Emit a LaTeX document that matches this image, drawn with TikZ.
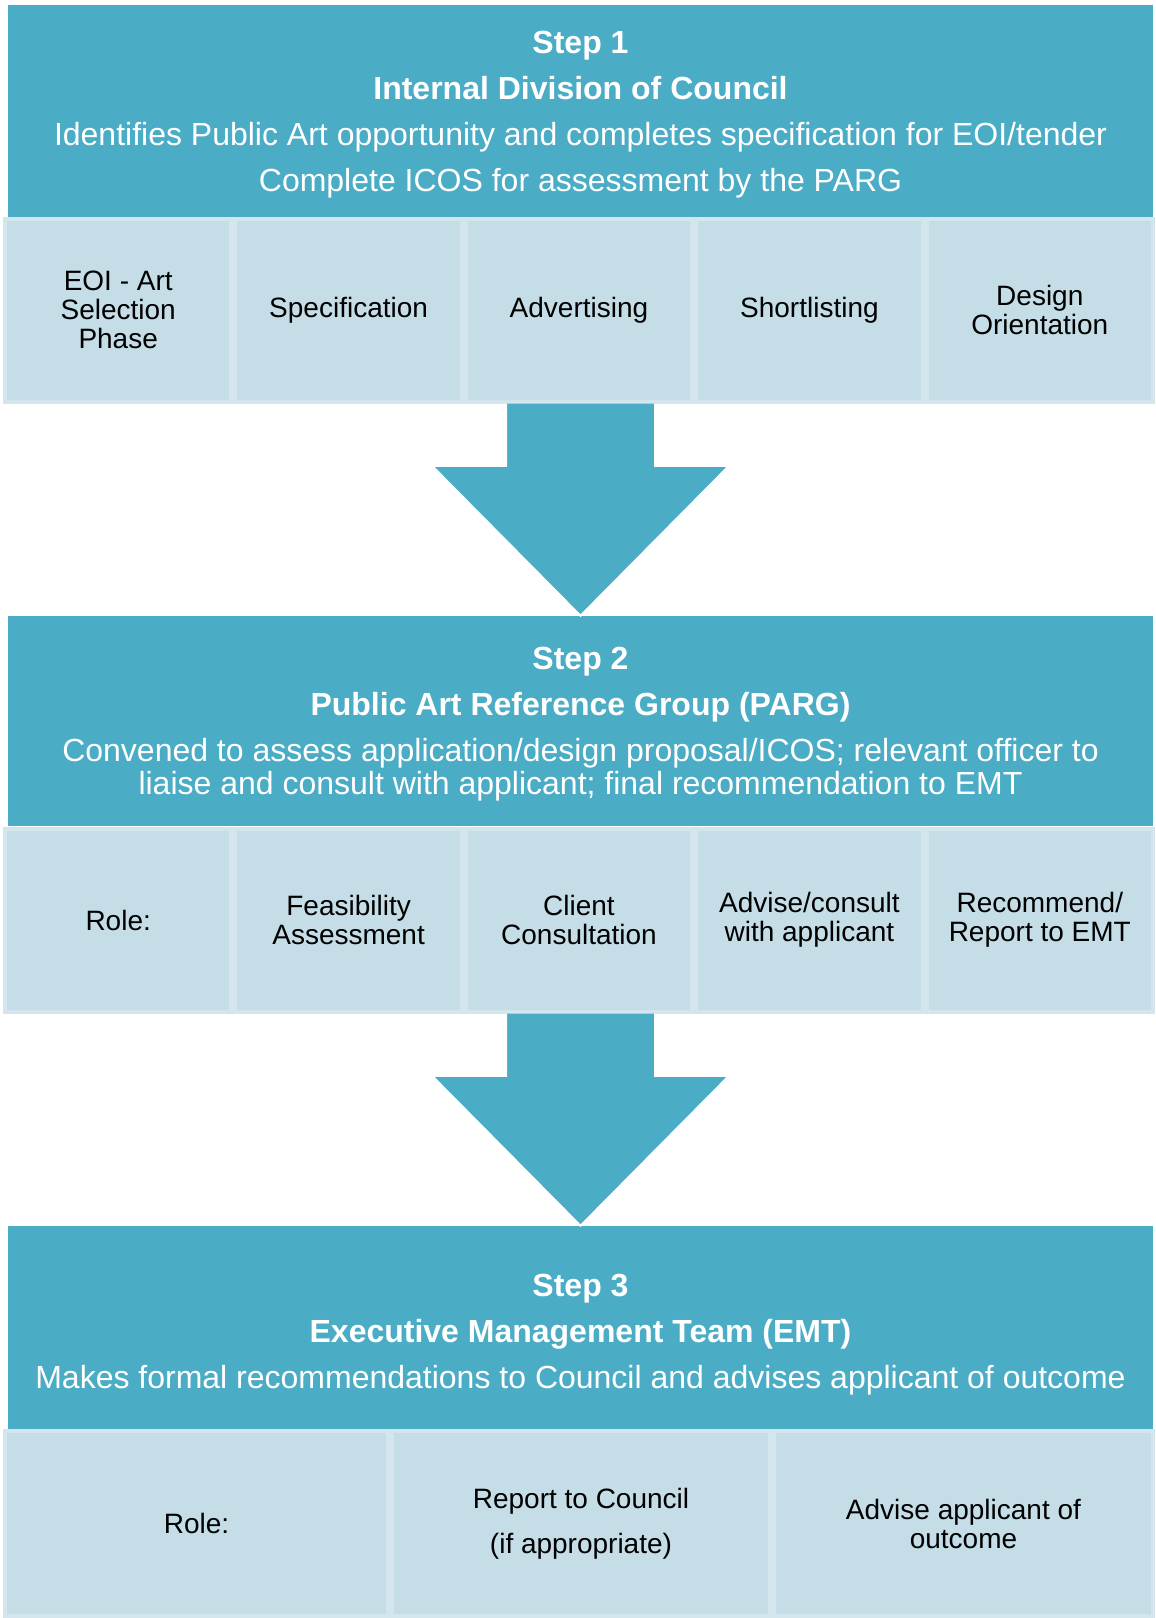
\documentclass[tikz,border=0pt]{standalone}
\usepackage{fontspec}
\setmainfont{Liberation Sans}
\usepackage{xcolor}
\usetikzlibrary{calc}
\usetikzlibrary{positioning}

\definecolor{stepblue}{HTML}{4BACC6}
\definecolor{cellfill}{HTML}{C4DDE6}
\definecolor{cellline}{HTML}{D3E6ED}
\newcommand{\topgap}[1]{\rule{0pt}{#1}}

\begin{document}
\begin{tikzpicture}[x=1pt, y=-1pt,
                banner/.style={rectangle, fill=stepblue, text=white, align=center,
                    inner sep=0pt, minimum width=1145pt, font=\fontsize{32}{33}\selectfont},
                cell/.style={rectangle, fill=cellfill, draw=cellline, line width=4pt,
                    align=center, inner sep=0pt, minimum width=226.4pt, minimum height=183pt,
                    font=\fontsize{28}{29}\selectfont},
                widecell/.style={cell, minimum height=185pt},
                bigarrow/.style={fill=stepblue, draw=white, line width=2pt, line join=miter}]
                \useasboundingbox (0,0) rectangle (1156,1618);
                \fill [white] (0,0) rectangle (1156,1618);
                % step 1
                \node [banner, minimum height=212pt] (step1) at (580.5,111)
                    {\topgap{30pt}{\bfseries Step 1}\\[13pt]{\bfseries Internal Division of Council}\\[13pt]
                     Identifies Public Art opportunity and completes specification for EOI/tender\\[13pt]
                     Complete ICOS for assessment by the PARG};
                \node [cell] (eoi) at (118.2,310) {EOI - Art\\Selection\\Phase};
                \node [cell, right=0pt of eoi] (spec) {Specification};
                \node [cell, right=0pt of spec] (advert) {Advertising};
                \node [cell, right=0pt of advert] (short) {Shortlisting};
                \node [cell, right=0pt of short] (design) {Design\\Orientation};
                % step 2
                \node [banner, minimum height=210pt] (step2) at (580.5,721)
                    {\topgap{28pt}{\bfseries Step 2}\\[13pt]{\bfseries Public Art Reference Group (PARG)}\\[13pt]
                     Convened to assess application/design proposal/ICOS; relevant officer to\\
                     liaise and consult with applicant; final recommendation to EMT};
                \node [cell] (role2) at (118.2,920) {Role:};
                \node [cell, right=0pt of role2] (feas) {Feasibility\\Assessment};
                \node [cell, right=0pt of feas] (client) {Client\\Consultation};
                \node [cell, right=0pt of client] (consult) {Advise/consult\\with applicant};
                \node [cell, right=0pt of consult] (recom) {Recommend/\\Report to EMT};
                % step 3
                \node [banner, minimum height=203pt] (step3) at (580.5,1327.5)
                    {\topgap{36pt}{\bfseries Step 3}\\[13pt]{\bfseries Executive Management Team (EMT)}\\[13pt]
                     Makes formal recommendations to Council and advises applicant of outcome};
                \node [widecell, minimum width=383pt] (role3) at (196.5,1523.5) {Role:};
                \node [widecell, minimum width=378pt, right=0pt of role3] (report)
                    {Report to Council\\[16pt](if appropriate)};
                \node [widecell, minimum width=379pt, right=0pt of report] (outcome)
                    {Advise applicant of\\outcome};
                % arrows between the steps
                \coordinate (top1) at (step2.north |- advert.south);
                \coordinate (top2) at (step3.north |- client.south);
                \draw [bigarrow] ($(top1)+(-74.5,0)$) -- ($(step2.north)+(-74.5,-150)$)
                    -- ($(step2.north)+(-148.5,-150)$) -- (step2.north)
                    -- ($(step2.north)+(148.5,-150)$) -- ($(step2.north)+(74.5,-150)$)
                    -- ($(top1)+(74.5,0)$);
                \draw [bigarrow] ($(top2)+(-74.5,0)$) -- ($(step3.north)+(-74.5,-150)$)
                    -- ($(step3.north)+(-148.5,-150)$) -- (step3.north)
                    -- ($(step3.north)+(148.5,-150)$) -- ($(step3.north)+(74.5,-150)$)
                    -- ($(top2)+(74.5,0)$);
        \end{tikzpicture}
\end{document}
